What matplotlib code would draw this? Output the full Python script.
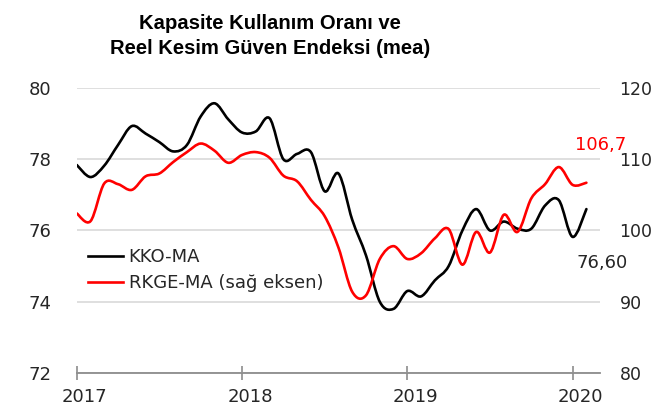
import numpy as np
import matplotlib.pyplot as plt
from matplotlib.path import Path
from matplotlib.patches import PathPatch
from matplotlib.lines import Line2D
from matplotlib.transforms import ScaledTranslation

# monthly values, Jan 2017 - Feb 2020
kko = [77.84, 77.50, 77.82, 78.40, 78.93, 78.72, 78.48, 78.22, 78.40, 79.20,
       79.57, 79.12, 78.75, 78.78, 79.15, 78.00, 78.15, 78.20, 77.10, 77.60,
       76.30, 75.30, 74.00, 73.80, 74.30, 74.15, 74.60, 75.00, 76.00, 76.60,
       76.00, 76.25, 76.05, 76.05, 76.70, 76.85, 75.82, 76.60]
rkge = [102.4, 101.3, 106.6, 106.5, 105.7, 107.6, 108.0, 109.6, 111.0, 112.2,
        111.2, 109.5, 110.6, 111.0, 110.2, 107.7, 106.9, 104.3, 102.0, 97.6,
        91.4, 90.9, 96.0, 97.8, 96.0, 96.8, 98.9, 100.2, 95.2, 99.8,
        96.9, 102.2, 99.8, 104.5, 106.5, 108.9, 106.4, 106.7]
years = ['2017', '2018', '2019', '2020']
year_pos = [0, 12, 24, 36]

title = 'Kapasite Kullanım Oranı ve\nReel Kesim Güven Endeksi (mea)'
kko_label = 'KKO-MA'
rkge_label = 'RKGE-MA (sağ eksen)'

plt.rcParams['font.family'] = ['DejaVu Sans']
txt = '#262626'


def smooth_path(x, y):
    # Catmull-Rom style bezier, like a "smoothed line" in a spreadsheet
    p = np.column_stack([x, y]).astype(float)
    ext = np.vstack([p[0], p, p[-1]])
    verts = [p[0]]
    codes = [Path.MOVETO]
    for i in range(len(p) - 1):
        p0, p1, p2, p3 = ext[i], ext[i + 1], ext[i + 2], ext[i + 3]
        verts += [p1 + (p2 - p0) / 6, p2 - (p3 - p1) / 6, p2]
        codes += [Path.CURVE4] * 3
    return Path(verts, codes)


x = np.arange(len(kko))

fig = plt.figure(figsize=(6.54, 4.13), dpi=100)
ax = fig.add_axes([0.1173, 0.0969, 0.8004, 0.6901])
ax2 = ax.twinx()

ax.add_patch(PathPatch(smooth_path(x, kko), fill=False, color='black', lw=1.9,
                       capstyle='round', joinstyle='round', zorder=3))
ax2.add_patch(PathPatch(smooth_path(x, rkge), fill=False, color='#ff0000', lw=1.9,
                        capstyle='round', joinstyle='round', zorder=3))

ax.set_xlim(0, 38)
ax.set_ylim(72, 80)
ax2.set_ylim(80, 120)
ax.set_yticks([72, 74, 76, 78, 80])
ax2.set_yticks([80, 90, 100, 110, 120])
ax.set_xticks(year_pos)
ax.set_xticklabels(years)

ax.set_axisbelow(True)
ax.grid(axis='y', color='#d9d9d9', lw=1.2)
for a in (ax, ax2):
    for s in a.spines.values():
        s.set_visible(False)
ax.spines['bottom'].set_visible(True)
ax.spines['bottom'].set_color('#8c8c8c')
ax.spines['bottom'].set_linewidth(1.3)
ax.spines['bottom'].set_zorder(4)

ax.tick_params(axis='x', direction='inout', length=10, width=1.2, color='#8c8c8c',
               labelsize=13, labelcolor=txt, pad=6)
ax.tick_params(axis='y', length=0, labelsize=13, labelcolor=txt, pad=18)
ax2.tick_params(axis='y', length=0, labelsize=12.5, labelcolor=txt, pad=14)

off = ScaledTranslation(0.08, 0, fig.dpi_scale_trans)
for lbl in ax.get_xticklabels():
    lbl.set_transform(lbl.get_transform() + off)

handles = [Line2D([], [], color='black', lw=1.9), Line2D([], [], color='#ff0000', lw=1.9)]
ax.legend(handles, [kko_label, rkge_label], loc='center left',
          bbox_to_anchor=(0.0216, 0.361), frameon=False, fontsize=13,
          handlelength=1.95, handletextpad=0.3, labelspacing=0.42,
          borderpad=0, borderaxespad=0, labelcolor=txt)

ax2.annotate('106,7', xy=(x[-1], rkge[-1]), xytext=(10.4, 27), textcoords='offset points',
             ha='center', va='center', color='#ff0000', fontsize=13)
ax.annotate('76,60', xy=(x[-1], kko[-1]), xytext=(11, -39), textcoords='offset points',
            ha='center', va='center', color=txt, fontsize=13)

fig.text(270 / 654, 1 - 36 / 413, title, ha='center', va='center', fontsize=14.6,
         fontweight='bold', linespacing=1.4, color='black',
         family=['Liberation Sans', 'DejaVu Sans'])

fig.savefig('out.png', dpi=100, facecolor='white')
